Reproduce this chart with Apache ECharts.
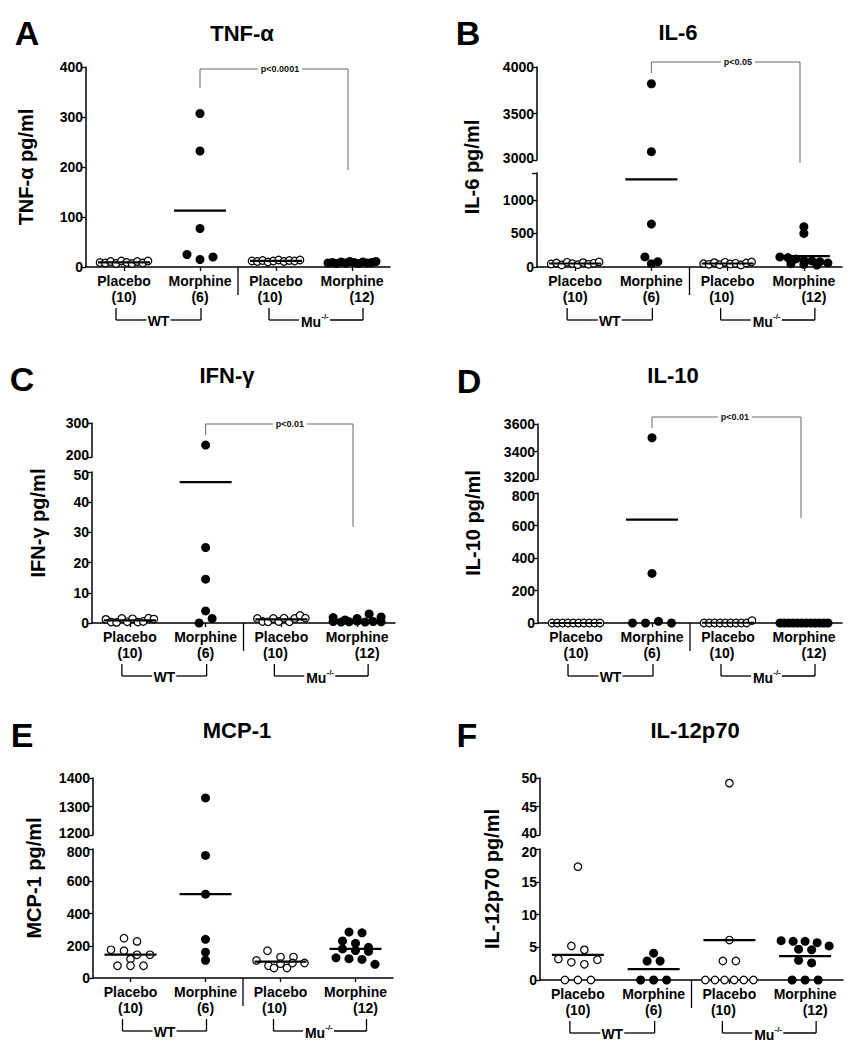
<!DOCTYPE html>
<html><head><meta charset="utf-8">
<script src="https://cdn.jsdelivr.net/npm/echarts@6/dist/echarts.min.js"></script>
<style>html,body{margin:0;padding:0;background:#fff}#c{width:856px;height:1050px}</style>
</head><body><div id="c"></div>
<script>
// ---------------- DATA ----------------
const groupNames = ['Placebo', 'Morphine', 'Placebo', 'Morphine'];
const groupCounts = ['(10)', '(6)', '(10)', '(12)'];
const strainWT = 'WT';
const strainMu = 'Mu';
const strainMuSup = '-/-';

// A: TNF-alpha
const tnfWtPlacebo = [9, 8, 11, 7, 12, 9, 7, 11, 8, 12];
const tnfWtMorphine = [307, 232, 77, 25, 15, 20];
const tnfMuPlacebo = [12, 11, 13, 10, 12, 14, 11, 13, 12, 14];
const tnfMuMorphine = [8, 9, 7, 10, 8, 11, 9, 7, 10, 8, 9, 11];
const tnfTicks = [0, 100, 200, 300, 400];

// B: IL-6
const il6WtPlacebo = [45, 60, 30, 70, 50, 35, 65, 40, 55, 75];
const il6WtMorphine = [3820, 3090, 640, 150, 50, 80];
const il6MuPlacebo = [50, 40, 65, 35, 70, 45, 55, 30, 60, 75];
const il6MuMorphine = [600, 500, 150, 140, 120, 100, 90, 80, 60, 50, 40, 30];
const il6UpperTicks = [3000, 3500, 4000];
const il6LowerTicks = [0, 500, 1000];

// C: IFN-gamma
const ifnWtPlacebo = [1.2, 0.3, 0.2, 1.5, 0.4, 1.4, 0.3, 0.5, 1.6, 1.3];
const ifnWtMorphine = [235, 25, 14.5, 4, 0, 1.5];
const ifnMuPlacebo = [1.5, 0.5, 0.4, 1.5, 0.5, 1.6, 0.4, 1.5, 2.5, 1.6];
const ifnMuMorphine = [1.8, 0.5, 0.3, 1.0, 0.4, 1.5, 3.0, 0.6, 0.3, 2.0, 0.5, 0.4];
const ifnUpperTicks = [200, 300];
const ifnLowerTicks = [0, 10, 20, 30, 40, 50];

// D: IL-10
const il10WtPlacebo = [0, 0, 0, 0, 0, 0, 0, 0, 0, 0];
const il10WtMorphine = [3500, 305, 0, 0, 10, 0];
const il10MuPlacebo = [0, 0, 0, 0, 0, 0, 0, 0, 0, 15];
const il10MuMorphine = [0, 0, 0, 0, 0, 0, 0, 0, 0, 0, 0, 0];
const il10UpperTicks = [3200, 3400, 3600];
const il10LowerTicks = [0, 200, 400, 600, 800];

// E: MCP-1
const mcpWtPlacebo = [247, 227, 175, 169, 144, 117, 144, 76, 76, 76];
const mcpWtMorphine = [1330, 760, 520, 240, 110, 160];
const mcpMuPlacebo = [169, 130, 130, 109, 76, 62, 62, 89, 93, 93];
const mcpMuMorphine = [285, 280, 230, 215, 190, 180, 170, 165, 125, 120, 115, 85];
const mcpUpperTicks = [1200, 1300, 1400];
const mcpLowerTicks = [0, 200, 400, 600, 800];

// F: IL-12p70
const il12WtPlacebo = [17.3, 5.2, 4.6, 3.2, 2.7, 2.4, 3.1, 0, 0, 0];
const il12WtMorphine = [4.1, 2.9, 2.9, 0, 0, 0];
const il12MuPlacebo = [49.1, 6.1, 2.9, 2.9, 0, 0, 0, 0, 0, 0];
const il12MuMorphine = [6.0, 5.9, 5.9, 5.7, 5.2, 4.7, 4.6, 3.0, 2.6, 0, 0, 0];
const il12UpperTicks = [40, 45, 50];
const il12LowerTicks = [0, 5, 10, 15, 20];

const panels = [
  { letter: 'A', title: 'TNF-\u03b1', yName: 'TNF-\u03b1 pg/ml',
    groups: [tnfWtPlacebo, tnfWtMorphine, tnfMuPlacebo, tnfMuMorphine],
    lower: { min: 0, max: 400, labels: tnfTicks }, upper: null, sig: 'p<0.0001' },
  { letter: 'B', title: 'IL-6', yName: 'IL-6 pg/ml',
    groups: [il6WtPlacebo, il6WtMorphine, il6MuPlacebo, il6MuMorphine],
    lower: { min: 0, max: 1400, labels: il6LowerTicks }, upper: { min: 3000, max: 4000, labels: il6UpperTicks }, sig: 'p<0.05' },
  { letter: 'C', title: 'IFN-\u03b3', yName: 'IFN-\u03b3 pg/ml',
    groups: [ifnWtPlacebo, ifnWtMorphine, ifnMuPlacebo, ifnMuMorphine],
    lower: { min: 0, max: 50, labels: ifnLowerTicks }, upper: { min: 200, max: 300, labels: ifnUpperTicks }, sig: 'p<0.01' },
  { letter: 'D', title: 'IL-10', yName: 'IL-10 pg/ml',
    groups: [il10WtPlacebo, il10WtMorphine, il10MuPlacebo, il10MuMorphine],
    lower: { min: 0, max: 800, labels: il10LowerTicks }, upper: { min: 3200, max: 3600, labels: il10UpperTicks }, sig: 'p<0.01' },
  { letter: 'E', title: 'MCP-1', yName: 'MCP-1 pg/ml',
    groups: [mcpWtPlacebo, mcpWtMorphine, mcpMuPlacebo, mcpMuMorphine],
    lower: { min: 0, max: 800, labels: mcpLowerTicks }, upper: { min: 1200, max: 1400, labels: mcpUpperTicks }, sig: null },
  { letter: 'F', title: 'IL-12p70', yName: 'IL-12p70 pg/ml',
    groups: [il12WtPlacebo, il12WtMorphine, il12MuPlacebo, il12MuMorphine],
    lower: { min: 0, max: 20, labels: il12LowerTicks }, upper: { min: 40, max: 50, labels: il12UpperTicks }, sig: null }
];

// ---------------- LAYOUT (pixels) ----------------
const layouts = [
  { left: 86, width: 304, lower: [67, 267], upper: null, letter: [27, 33], title: [242, 33], yName: [26, 167], sig: { top: 69, l: 88, r: 170, x2: 348, tx: 280 } },
  { left: 537, width: 305, lower: [173, 267], upper: [67, 160], letter: [468, 33], title: [678, 32], yName: [472, 167], sig: { top: 62, l: 73, r: 163, x2: 800, tx: 738 } },
  { left: 92, width: 303, lower: [472, 623], upper: [423, 457], letter: [22, 379], title: [227, 375], yName: [38, 523], sig: { top: 424, l: 435, r: 527, x2: 353, tx: 290 } },
  { left: 538, width: 304, lower: [493, 623], upper: [424, 479], letter: [469, 381], title: [673, 375], yName: [473, 523], sig: { top: 417, l: 428, r: 518, x2: 801, tx: 735 } },
  { left: 93, width: 300, lower: [849, 978], upper: [778, 835], letter: [22, 735], title: [237, 730], yName: [34, 878], sig: null },
  { left: 540, width: 303, lower: [849, 980], upper: [778, 835], letter: [467, 735], title: [695, 730], yName: [492, 879], sig: null }
];

const FONT = '"Liberation Sans", Arial, Helvetica, sans-serif';
const OPEN_SIZE = 7.5, FILL_SIZE = 9;
const CLUSTER_PX = 6.5, STEP_PX = 13, MAX_SPREAD = 48;
const MEAN_W = 52;

const option = { animation: false, backgroundColor: '#fff', grid: [], xAxis: [], yAxis: [], series: [], graphic: [] };

function txt(x, y, text, font, extra) {
  return Object.assign({ type: 'text', x: x, y: y, z: 100,
    style: Object.assign({ text: text, font: font, fill: '#000', align: 'center', verticalAlign: 'middle',
      textAlign: 'center', textVerticalAlign: 'middle' }, (extra && extra.style) || {}) }, (extra && extra.el) || {});
}
function line(x1, y1, x2, y2, color, w) {
  return { type: 'line', z: 90, shape: { x1: x1, y1: y1, x2: x2, y2: y2 }, style: { stroke: color || '#000', lineWidth: w || 1.3 } };
}
const tickRich = {
  t: { fontFamily: FONT, fontWeight: 'bold', fontSize: 14, color: '#000', lineHeight: 12 },
  up: { fontFamily: FONT, fontWeight: 'bold', fontSize: 14, color: '#000', lineHeight: 12, padding: [0, 0, 5, 0] },
  dn: { fontFamily: FONT, fontWeight: 'bold', fontSize: 14, color: '#000', lineHeight: 12, padding: [5, 0, 0, 0] }
};

panels.forEach((p, pi) => {
  const L = layouts[pi];
  const segs = [];
  segs.push(Object.assign({ key: 'lower', top: L.lower[0], bottom: L.lower[1] }, p.lower));
  if (p.upper) segs.push(Object.assign({ key: 'upper', top: L.upper[0], bottom: L.upper[1] }, p.upper));
  const axisColor = '#000';
  const broken = segs.length > 1;
  segs.forEach(seg => {
    const gi = option.grid.length;
    seg.gi = gi;
    seg.ppu = (seg.bottom - seg.top) / (seg.max - seg.min);
    option.grid.push({ left: L.left, top: seg.top, width: L.width, height: seg.bottom - seg.top });
    const isLower = seg.key === 'lower';
    option.xAxis.push({
      type: 'value', gridIndex: gi, min: -0.5, max: 3.5, show: isLower,
      splitLine: { show: false },
      axisLine: { show: isLower, onZero: false, lineStyle: { color: axisColor, width: 1.5 } },
      axisTick: { show: isLower, customValues: [0, 1, 2, 3], length: 4, inside: false, lineStyle: { color: axisColor, width: 1.3 } },
      axisLabel: {
        show: isLower, customValues: [0, 1, 2, 3], margin: 6,
        formatter: v => { const g = Math.round(v); return '{n|' + groupNames[g] + '}\n{c' + g + '|' + groupCounts[g] + '}'; },
        rich: {
          n: { fontFamily: FONT, fontWeight: 'bold', fontSize: 14, color: '#000', lineHeight: 16, align: 'center' },
          c0: { fontFamily: FONT, fontWeight: 'bold', fontSize: 14, color: '#000', lineHeight: 16, align: 'center' },
          c1: { fontFamily: FONT, fontWeight: 'bold', fontSize: 14, color: '#000', lineHeight: 16, align: 'center' },
          c2: { fontFamily: FONT, fontWeight: 'bold', fontSize: 14, color: '#000', lineHeight: 16, align: 'center', padding: [0, 12, 0, 0] },
          c3: { fontFamily: FONT, fontWeight: 'bold', fontSize: 14, color: '#000', lineHeight: 16, align: 'center', padding: [0, 0, 0, 20] }
        }
      }
    });
    const ticks = Array.from(new Set(seg.labels.concat([seg.min, seg.max])));
    option.yAxis.push({
      type: 'value', gridIndex: gi, min: seg.min, max: seg.max,
      splitLine: { show: false },
      axisLine: { show: true, onZero: false, lineStyle: { color: axisColor, width: 1.5 } },
      axisTick: { show: true, customValues: ticks, length: 5, lineStyle: { color: axisColor, width: 1.3 } },
      axisLabel: { show: true, customValues: seg.labels, margin: 3, rich: tickRich,
        formatter: v => {
          let k = 't';
          if (broken && !isLower && v === seg.min) k = 'up';
          if (broken && isLower && v === seg.max) k = 'dn';
          return '{' + k + '|' + v + '}';
        } }
    });
  });
  const lower = segs[0], upper = segs[1] || null;
  const segFor = v => (upper && v > lower.max) ? upper : lower;
  const toPx = v => { const s = segFor(v); return s.bottom - (v - s.min) * s.ppu; };
  const pxPerX = L.width / 4;

  const pts = {};
  const means = {};
  segs.forEach(s => { pts[s.gi] = { open: [], filled: [] }; means[s.gi] = []; });

  p.groups.forEach((vals, g) => {
    // cluster layout (rows of points spread horizontally)
    const idx = vals.map((v, i) => i).sort((a, b) => vals[b] - vals[a] || a - b);
    const offsets = new Array(vals.length).fill(0);
    let i = 0;
    while (i < idx.length) {
      const start = toPx(vals[idx[i]]);
      let j = i + 1;
      while (j < idx.length && Math.abs(toPx(vals[idx[j]]) - start) < CLUSTER_PX) j++;
      const members = idx.slice(i, j).sort((a, b) => a - b);
      const n = members.length;
      const s = n > 1 ? Math.min(STEP_PX, MAX_SPREAD / (n - 1)) : 0;
      members.forEach((m, k) => { offsets[m] = (k - (n - 1) / 2) * s / pxPerX; });
      i = j;
    }
    const open = (g % 2 === 0);
    vals.forEach((v, k) => {
      const s = segFor(v);
      pts[s.gi][open ? 'open' : 'filled'].push([g + offsets[k], v]);
    });
    const mean = vals.reduce((a, b) => a + b, 0) / vals.length;
    means[segFor(mean).gi].push([g, mean]);
  });

  segs.forEach(s => {
    option.series.push({
      type: 'scatter', xAxisIndex: s.gi, yAxisIndex: s.gi, data: pts[s.gi].open, symbol: 'circle', symbolSize: OPEN_SIZE, z: 3,
      itemStyle: { color: '#fff', borderColor: '#000', borderWidth: 1.2, opacity: 1 }, silent: true
    });
    option.series.push({
      type: 'scatter', xAxisIndex: s.gi, yAxisIndex: s.gi, data: pts[s.gi].filled, symbol: 'circle', symbolSize: FILL_SIZE, z: 4,
      itemStyle: { color: '#000', opacity: 1 }, silent: true
    });
    option.series.push({
      type: 'scatter', xAxisIndex: s.gi, yAxisIndex: s.gi, data: means[s.gi], symbol: 'rect', symbolSize: [MEAN_W, 2.2], z: 5,
      itemStyle: { color: '#000', opacity: 1 }, silent: true
    });
  });

  // texts
  option.graphic.push(txt(L.letter[0], L.letter[1], p.letter, 'bold 34px ' + FONT));
  option.graphic.push(txt(L.title[0], L.title[1], p.title, 'bold 22px ' + FONT));
  option.graphic.push(txt(L.yName[0], L.yName[1], p.yName, 'bold 20px ' + FONT, { el: { rotation: Math.PI / 2 } }));

  const axisY = lower.bottom;
  const cx = g => L.left + (g + 0.5) / 4 * L.width;
  // separator
  option.graphic.push(line(cx(1.5), axisY, cx(1.5), axisY + 28, '#000', 1.3));
  // WT bracket
  const by = axisY + 53, bt = axisY + 41;
  const wl = cx(0) - 8, wr = cx(1) + 1, wm = (wl + wr) / 2;
  option.graphic.push(line(wl, bt, wl, by));
  option.graphic.push(line(wr, bt, wr, by));
  option.graphic.push(line(wl, by, wm - 12, by));
  option.graphic.push(line(wm + 12, by, wr, by));
  option.graphic.push(txt(wm, by + 1, strainWT, 'bold 14px ' + FONT));
  // Mu bracket
  const ml = cx(2) - 7, mr = cx(3) + 11, mm = (ml + mr) / 2;
  option.graphic.push(line(ml, bt, ml, by));
  option.graphic.push(line(mr, bt, mr, by));
  option.graphic.push(line(ml, by, mm - 17, by));
  option.graphic.push(line(mm + 14, by, mr, by));
  option.graphic.push(txt(mm - 5, by + 2, strainMu, 'bold 14px ' + FONT));
  option.graphic.push(txt(mm + 9, by - 4, strainMuSup, 'bold 8px ' + FONT));

  // significance bracket
  if (p.sig && L.sig) {
    const S = L.sig, x1 = cx(1), gray = '#666';
    option.graphic.push(line(x1, S.l, x1, S.top, gray, 1));
    option.graphic.push(line(x1, S.top, S.x2, S.top, gray, 1));
    option.graphic.push(line(S.x2, S.top, S.x2, S.r, gray, 1));
    option.graphic.push(txt(S.tx, S.top, p.sig, 'bold 9px ' + FONT,
      { style: { backgroundColor: '#fff', padding: [1, 3, 1, 3], fill: '#111' } }));
  }
});

const chart = echarts.init(document.getElementById('c'), null, { renderer: 'svg', width: 856, height: 1050 });
chart.setOption(option);
</script>
</body></html>
